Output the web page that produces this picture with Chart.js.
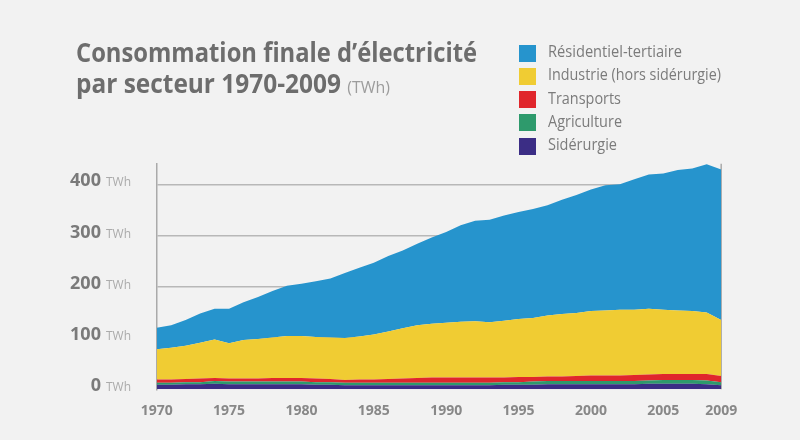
<!DOCTYPE html>
<html lang="fr">
<head>
<meta charset="utf-8">
<script src="https://cdn.jsdelivr.net/npm/chart.js@4/dist/chart.umd.min.js"></script>
<style>
  html, body { margin:0; padding:0; background:#f2f2f2; }
  #wrap { position:relative; width:800px; height:440px; overflow:hidden; background:#f2f2f2; }
  #c { position:absolute; left:0; top:0; }
  .fit { position:absolute; white-space:nowrap; transform-origin:0 0; }
  #t1, #t2 { font-family:"Open Sans", sans-serif; font-weight:700; font-size:26px; color:#6d6d6d; line-height:1; }
  #t2 span { font-weight:400; font-size:17px; color:#9c9c9c; }
  .lg-box { position:absolute; width:17px; height:17px; }
  .lg-txt { font-family:"Open Sans", sans-serif; font-size:17px; color:#7b7b7b; line-height:1; }
</style>
</head>
<body>
<div id="wrap">
  <canvas id="c" width="800" height="440"></canvas>
  <div id="t1" class="fit">Consommation finale d’électricité</div>
  <div id="t2" class="fit">par secteur 1970-2009 <span>(TWh)</span></div>
  <div id="legend"></div>
</div>
<script>
// ---- Data (TWh) ----
const years = [1970,1971,1972,1973,1974,1975,1976,1977,1978,1979,
               1980,1981,1982,1983,1984,1985,1986,1987,1988,1989,
               1990,1991,1992,1993,1994,1995,1996,1997,1998,1999,
               2000,2001,2002,2003,2004,2005,2006,2007,2008,2009];
const siderurgie = [9,9,10,10,11,10,10,10,10,10,
                    10,9,9,8,8,8,8,8,8,8,
                    8,8,8,8,9,9,9,10,10,10,
                    10,10,10,10,11,11,11,11,10,8];
const agriculture = [4,4,4,4,5,5,5,5,5,5,
                     5,5,5,5,5,5,5,5,5,5,
                     5,5,5,5,5,5,6,6,6,6,
                     6,6,6,6,6,7,7,7,7,6];
const transports = [6,6,6,7,6,6,6,6,7,7,
                    7,7,6,5,6,6,7,8,9,10,
                    10,10,10,10,9,10,9,9,9,10,
                    11,11,11,12,12,12,12,12,13,12];
const industrie = [59,62,65,70,75,69,75,77,79,82,
                   82,81,81,82,84,88,93,98,103,105,
                   107,109,110,108,111,113,115,119,122,123,
                   126,127,128,127,128,125,124,123,120,109];
const residentiel = [42,44,50,57,60,67,74,82,91,98,
                     102,109,115,127,134,140,147,152,159,168,
                     177,188,196,200,205,209,213,215,223,230,
                     237,244,245,255,262,266,274,278,289,294];
const yTicks = [0,100,200,300,400];
const xTickYears = [1970,1975,1980,1985,1990,1995,2000,2005,2009];
const unit = 'TWh';

const series = [
  { label:'Sidérurgie', data:siderurgie, color:'#3b2d85' },
  { label:'Agriculture', data:agriculture, color:'#2e9a6c' },
  { label:'Transports', data:transports, color:'#e0262c' },
  { label:'Industrie (hors sidérurgie)', data:industrie, color:'#f0cc33' },
  { label:'Résidentiel-tertiaire', data:residentiel, color:'#2694cd' }
];

const labelsPlugin = {
  id:'labelsPlugin',
  beforeDatasetsDraw(chart){
    const ctx = chart.ctx, a = chart.chartArea;
    ctx.save();
    ctx.strokeStyle = '#aaaaaa'; ctx.lineWidth = 1.5;
    ctx.beginPath(); ctx.moveTo(a.right, a.top); ctx.lineTo(a.right, a.bottom); ctx.stroke();
    ctx.restore();
  },
  afterDraw(chart){
    const ctx = chart.ctx, ys = chart.scales.y, xs = chart.scales.x;
    ctx.save();
    // y labels
    ctx.textBaseline = 'alphabetic';
    yTicks.forEach(v => {
      const py = ys.getPixelForValue(v) + 2;
      ctx.font = '400 12px "Open Sans"';
      ctx.fillStyle = '#ababab';
      ctx.textAlign = 'right';
      ctx.fillText(unit, 131, py);
      const uw = ctx.measureText(unit).width;
      ctx.font = '700 18px "Open Sans"';
      ctx.fillStyle = '#7a7a7a';
      ctx.fillText(String(v), 131 - uw - 5, py);
    });
    // x labels
    ctx.font = '700 14px "Open Sans"';
    ctx.fillStyle = '#888888';
    ctx.textAlign = 'center';
    ctx.textBaseline = 'middle';
    xTickYears.forEach(yr => {
      const px = xs.getPixelForValue(years.indexOf(yr));
      ctx.fillText(String(yr), px, 411.5);
    });
    ctx.restore();
  }
};

const chart = new Chart(document.getElementById('c'), {
  type:'line',
  data:{
    labels: years,
    datasets: series.map((s,i) => ({
      label: s.label,
      data: s.data,
      backgroundColor: s.color,
      borderColor: s.color,
      borderWidth: 0,
      pointRadius: 0,
      tension: 0,
      fill: i === 0 ? 'origin' : '-1'
    }))
  },
  options:{
    responsive:false,
    animation:false,
    devicePixelRatio:1,
    layout:{ padding:{ left:156.7, right:78.8, top:163.8, bottom:50.7 } },
    plugins:{ legend:{display:false}, tooltip:{enabled:false}, title:{display:false} },
    scales:{
      x:{ display:false, offset:false },
      y:{
        display:true, stacked:true, min:0, max:440,
        ticks:{ display:false, stepSize:100 },
        grid:{
          drawTicks:false,
          color: c => (c.tick && c.tick.value % 100 === 0 && c.tick.value > 0) ? '#b8b8b8' : 'rgba(0,0,0,0)',
          lineWidth:1.5
        },
        border:{ display:true, color:'#aaaaaa', width:1.5 }
      }
    }
  },
  plugins:[labelsPlugin]
});

// ---- title & legend (HTML text) ----
function place(el, left, top, targetWidth){
  el.style.left = left + 'px'; el.style.top = top + 'px';
  const w = el.getBoundingClientRect().width;
  if (targetWidth && w > 0) el.style.transform = 'scaleX(' + (targetWidth / w) + ')';
}
place(document.getElementById('t1'), 75.5, 39, 401);
place(document.getElementById('t2'), 75.5, 70, 314);

const legend = document.getElementById('legend');
const legendWidths = [134, 173, 73, 74, 69];
series.slice().reverse().forEach((s, i) => {
  const cy = 53 + i * 23.3;
  const box = document.createElement('div');
  box.className = 'lg-box';
  box.style.left = '519px'; box.style.top = (cy - 8.5) + 'px';
  box.style.background = s.color;
  legend.appendChild(box);
  const t = document.createElement('div');
  t.className = 'lg-txt fit';
  t.textContent = s.label;
  legend.appendChild(t);
  place(t, 548.3, cy - 11, legendWidths[i]);
});
</script>
</body>
</html>
